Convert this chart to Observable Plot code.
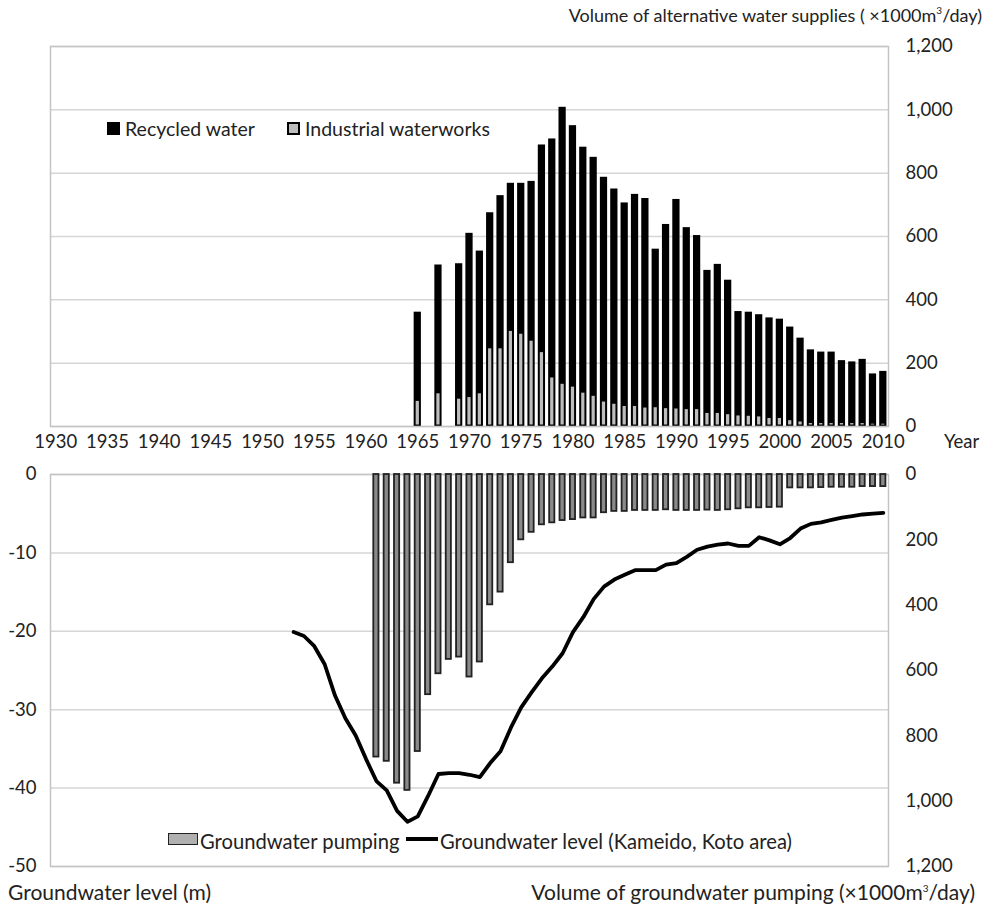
<!DOCTYPE html>
<html><head><meta charset="utf-8">
<script src="https://cdn.jsdelivr.net/npm/d3@7"></script>
<script src="https://cdn.jsdelivr.net/npm/@observablehq/plot@0.6"></script>
<style>
body{margin:0;background:#fff;}
#wrap{position:relative;width:985px;height:914px;font-family:Lato,"Open Sans",sans-serif;color:#222;overflow:hidden;}
#wrap svg{position:absolute;left:0;top:0;}
.lbl{position:absolute;font-size:19.5px;line-height:22px;white-space:nowrap;}
.sq{position:absolute;box-sizing:border-box;}
sup{font-size:10px;vertical-align:8px;line-height:0;}
</style></head><body><div id="wrap"></div>
<script>
// ---- Data ----
const xTicks = [1930,1935,1940,1945,1950,1955,1960,1965,1970,1975,1980,1985,1990,1995,2000,2005,2010];
const supplyTicks = [0,200,400,600,800,1000,1200];
const levelTicks = [-50,-40,-30,-20,-10,0];
const pumpTicks = [0,200,400,600,800,1000,1200];

const supplyYears = [1965,1967,1969,1970,1971,1972,1973,1974,1975,1976,1977,1978,1979,1980,1981,1982,1983,1984,1985,1986,1987,1988,1989,1990,1991,1992,1993,1994,1995,1996,1997,1998,1999,2000,2001,2002,2003,2004,2005,2006,2007,2008,2009,2010];
const recycledWater = [277,402,423,514,446,425,479,463,472,500,651,750,870,821,772,750,705,675,638,665,657,496,577,657,570,545,447,466,420,325,324,318,313,309,291,260,228,221,221,194,190,198,154,162];
const industrialWaterworks = [84,108,91,96,108,250,250,305,296,274,238,158,138,129,110,100,82,75,68,68,63,64,61,60,58,58,46,46,42,38,37,35,30,30,23,19,14,14,14,14,14,14,12,12];

const pumpYears = [1961,1962,1963,1964,1965,1966,1967,1968,1969,1970,1971,1972,1973,1974,1975,1976,1977,1978,1979,1980,1981,1982,1983,1984,1985,1986,1987,1988,1989,1990,1991,1992,1993,1994,1995,1996,1997,1998,1999,2000,2001,2002,2003,2004,2005,2006,2007,2008,2009,2010];
const pumping = [865,878,945,967,848,674,610,566,559,620,574,399,360,270,200,177,154,148,141,138,133,133,117,113,113,110,110,110,108,110,110,110,109,110,108,105,102,102,101,100,41,41,41,40,39,39,39,37,37,37];

const levelYears = [1953,1954,1955,1956,1957,1958,1959,1960,1961,1962,1963,1964,1965,1966,1967,1968,1969,1970,1971,1972,1973,1974,1975,1976,1977,1978,1979,1980,1981,1982,1983,1984,1985,1986,1987,1988,1989,1990,1991,1992,1993,1994,1995,1996,1997,1998,1999,2000,2001,2002,2003,2004,2005,2006,2007,2008,2009,2010];
const groundwaterLevel = [-20.1,-20.6,-21.9,-24.2,-28.2,-31.1,-33.3,-36.3,-39.1,-40.3,-42.9,-44.3,-43.6,-41.0,-38.2,-38.1,-38.1,-38.3,-38.6,-36.8,-35.3,-32.3,-29.7,-27.8,-26.0,-24.5,-22.8,-20.1,-18.2,-15.9,-14.3,-13.4,-12.8,-12.2,-12.2,-12.2,-11.5,-11.3,-10.5,-9.6,-9.2,-8.95,-8.8,-9.1,-9.1,-8.0,-8.4,-8.9,-8.1,-6.9,-6.3,-6.1,-5.8,-5.5,-5.3,-5.1,-5.0,-4.9];

// ---- Build ----
const W = 985, H = 914;
const xDomain = [1929.5, 2010.5];
const supply = supplyYears.map((year, i) => ({year, recycled: recycledWater[i], industrial: industrialWaterworks[i]}));
const pump = pumpYears.map((year, i) => ({year, value: pumping[i]}));
const level = levelYears.map((year, i) => ({year, value: groundwaterLevel[i]}));

const common = {
  width: W, height: H, marginLeft: 50, marginRight: 97,
  style: {fontFamily: "Lato, sans-serif", fontSize: "18.5px", color: "#222", background: "transparent", overflow: "visible"}
};
const fmt = d3.format(",");

const topPlot = Plot.plot({
  ...common, marginTop: 46, marginBottom: H - 426,
  x: {domain: xDomain},
  y: {domain: [0, 1200]},
  marks: [
    Plot.gridY(supplyTicks, {stroke: "#d6d6d6", strokeOpacity: 1, strokeWidth: 1.5}),
    Plot.rect(supply, {x1: d => d.year - 0.35, x2: d => d.year + 0.35, y1: 0, y2: d => d.industrial + d.recycled, fill: "#000"}),
    Plot.rect(supply, {x1: d => d.year - 0.35, x2: d => d.year + 0.35, y1: 0, y2: d => d.industrial, fill: "#bdbdbd", insetLeft: 2, insetRight: 2, insetTop: 1.5, insetBottom: 1.5}),
    Plot.frame({stroke: "#c4c4c4", strokeWidth: 1.5}),
    Plot.axisX(xTicks, {tickSize: 0, tickPadding: 8, tickFormat: d => String(d), label: null}),
    Plot.axisY(supplyTicks, {anchor: "right", tickSize: 0, tickPadding: 17, tickFormat: fmt, label: null})
  ]
});

const levelPlot = Plot.plot({
  ...common, marginTop: 474, marginBottom: H - 866,
  x: {domain: xDomain, axis: null},
  y: {domain: [-50, 0]},
  marks: [
    Plot.gridY(levelTicks, {stroke: "#d6d6d6", strokeOpacity: 1, strokeWidth: 1.5}),
    Plot.frame({stroke: "#c4c4c4", strokeWidth: 1.5}),
    Plot.line(level, {x: "year", y: "value", stroke: "#000", strokeWidth: 3.8, strokeLinejoin: "round", strokeLinecap: "round"}),
    Plot.axisY(levelTicks, {anchor: "left", tickSize: 0, tickPadding: 14, label: null, tickFormat: d => String(d)})
  ]
});

const pumpPlot = Plot.plot({
  ...common, marginTop: 474, marginBottom: H - 866,
  x: {domain: xDomain, axis: null},
  y: {domain: [0, 1200], reverse: true},
  marks: [
    Plot.rect(pump, {x1: d => d.year - 0.25, x2: d => d.year + 0.25, y1: 0, y2: "value", fill: "#8a8a8a", stroke: "#222", strokeWidth: 1.8}),
    Plot.axisY(pumpTicks, {anchor: "right", tickSize: 0, tickPadding: 17, tickFormat: fmt, label: null})
  ]
});

const wrap = document.getElementById("wrap");
wrap.append(topPlot, levelPlot, pumpPlot);

function label(html, css) {
  const d = document.createElement("div");
  d.className = "lbl";
  d.innerHTML = html;
  Object.assign(d.style, css);
  wrap.append(d);
}
function square(css) {
  const d = document.createElement("div");
  d.className = "sq";
  Object.assign(d.style, css);
  wrap.append(d);
}
label("Volume of alternative water supplies ( \u00d71000m<sup>3</sup>/day)", {right: "3px", top: "4px", fontSize: "18px"});
label("Year", {left: "944px", top: "430px", fontSize: "18.5px"});
label("Groundwater level (m)", {left: "8px", top: "881px", fontSize: "21px"});
label("Volume of groundwater pumping (\u00d71000m<sup>3</sup>/day)", {right: "10px", top: "881px", fontSize: "21px"});
// top legend
square({left: "107px", top: "122px", width: "13px", height: "13px", background: "#000"});
label("Recycled water", {left: "125px", top: "118px"});
square({left: "287px", top: "122px", width: "13px", height: "13px", background: "#bdbdbd", border: "2px solid #000"});
label("Industrial waterworks", {left: "305px", top: "118px"});
// bottom legend
square({left: "168px", top: "833px", width: "30px", height: "12px", background: "#b0b0b0", border: "1.5px solid #222"});
label("Groundwater pumping", {left: "200px", top: "830px", fontSize: "20.2px"});
square({left: "406px", top: "837px", width: "32px", height: "4px", background: "#000"});
label("Groundwater level (Kameido, Koto area)", {left: "440px", top: "830px", fontSize: "20.2px"});
</script>
</body></html>
